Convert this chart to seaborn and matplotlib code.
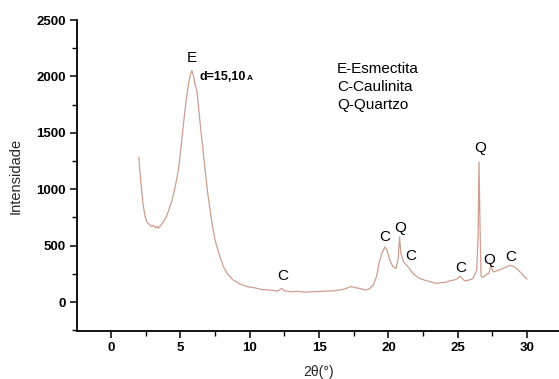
import matplotlib
matplotlib.use("Agg")
import matplotlib.pyplot as plt
from matplotlib.ticker import MultipleLocator
import seaborn as sns
import pandas as pd

sns.set_theme(style="ticks")
plt.rcParams["font.family"] = ["Liberation Sans", "DejaVu Sans"]

# Difratograma (2-theta, intensidade)
two_theta = [2.0, 2.15, 2.3, 2.45, 2.6, 2.75, 2.9, 3.05, 3.2, 3.3, 3.4, 3.55, 3.7, 3.85, 4.0,
             4.2, 4.4, 4.6, 4.85, 5.05, 5.2, 5.4, 5.6, 5.75, 5.82, 5.95, 6.05, 6.18, 6.3,
             6.42, 6.6, 6.78, 6.95, 7.14, 7.3, 7.5, 7.8, 8.1, 8.4, 8.8, 9.3, 9.78, 10.3,
             10.9, 11.5, 12.0, 12.3, 12.5, 13.0, 13.5, 14.0, 14.5, 15.0, 15.5, 16.0, 16.5,
             16.9, 17.3, 17.6, 18.0, 18.3, 18.6, 18.9, 19.15, 19.35, 19.55, 19.75, 19.9,
             20.1, 20.3, 20.55, 20.7, 20.8, 20.9, 21.08, 21.3, 21.5, 21.68, 21.9, 22.28,
             22.6, 23.0, 23.48, 23.8, 24.1, 24.4, 24.7, 24.95, 25.16, 25.35, 25.5, 25.8,
             26.1, 26.37, 26.47, 26.53, 26.6, 26.68, 26.8, 27.1, 27.25, 27.37, 27.45, 27.56,
             27.9, 28.3, 28.77, 29.0, 29.25, 29.55, 29.85, 30.0]
intensidade = [1286, 1050, 870, 760, 705, 690, 670, 680, 660, 672, 655, 675, 700, 730, 760,
               830, 905, 1010, 1168, 1380, 1560, 1780, 1950, 2030, 2053, 2000, 1930, 1876, 1740,
               1584, 1380, 1168, 980, 814, 680, 549, 420, 312, 250, 195, 160, 138, 128,
               110, 106, 98, 122, 100, 92, 95, 88, 92, 94, 98, 100, 108,
               118, 138, 128, 120, 108, 115, 150, 230, 360, 440, 489, 460,
               370, 320, 298, 380, 578, 430, 357, 327, 300, 268, 240, 209,
               195, 180, 165, 172, 175, 188, 195, 205, 230, 205, 188, 195,
               209, 283, 600, 1242, 700, 230, 220, 248, 255, 319, 300, 268,
               280, 300, 327, 318, 298, 260, 219, 205]

x_ticks = [0, 5, 10, 15, 20, 25, 30]
y_ticks = [0, 500, 1000, 1500, 2000, 2500]

# Anotações dos picos
peak_labels = ["E", "C", "C", "Q", "C", "C", "Q", "Q", "C"]
peak_x = [5.8, 12.4, 19.7, 20.85, 21.6, 25.2, 26.6, 27.3, 28.85]
peak_y = [2168, 230, 575, 655, 407, 300, 1363, 372, 398]

legend_lines = ["E-Esmectita", "C-Caulinita", "Q-Quartzo"]

df = pd.DataFrame({"2theta": two_theta, "I": intensidade})

fig = plt.figure(figsize=(5.59, 3.79), dpi=100)
ax = fig.add_axes([0.138, 0.127, 0.862, 0.82])

sns.lineplot(data=df, x="2theta", y="I", ax=ax, color="#cf9e8e", linewidth=0.9)

ax.set_xlim(-2.45, 32.3)
ax.set_ylim(-255, 2500)
ax.set_xticks(x_ticks, labels=[str(t) for t in x_ticks], fontweight="bold")
ax.set_yticks(y_ticks, labels=[str(t) for t in y_ticks], fontweight="bold")
ax.xaxis.set_minor_locator(MultipleLocator(2.5))
ax.yaxis.set_minor_locator(MultipleLocator(250))

for side in ["top", "right"]:
    ax.spines[side].set_visible(False)
for side in ["left", "bottom"]:
    ax.spines[side].set_color("black")
    ax.spines[side].set_linewidth(1.3)

ax.tick_params(axis="both", which="major", direction="out", length=5, width=1.1,
               colors="black", labelsize=9.5, pad=3)
ax.tick_params(axis="both", which="minor", direction="out", length=3.5, width=1.0,
               colors="black")

ax.set_xlabel("2θ(°)", fontsize=10, labelpad=8)
ax.set_ylabel("Intensidade", fontsize=10.5, labelpad=10)

for lab, px, py in zip(peak_labels, peak_x, peak_y):
    ax.text(px, py, lab, ha="center", va="center", fontsize=11, color="black")

# distância interplanar do pico da esmectita
ax.text(6.35, 1965, "d=15,10", ha="left", va="baseline", fontsize=9,
        fontweight="bold", color="black")
ax.text(9.75, 1965, "A", ha="left", va="baseline", fontsize=6,
        fontweight="bold", color="black")

for i, line in enumerate(legend_lines):
    ax.text(16.3, 2070 - i * 160, line, ha="left", va="center", fontsize=11,
            color="black")

fig.savefig("out.png", dpi=100, facecolor="white")
